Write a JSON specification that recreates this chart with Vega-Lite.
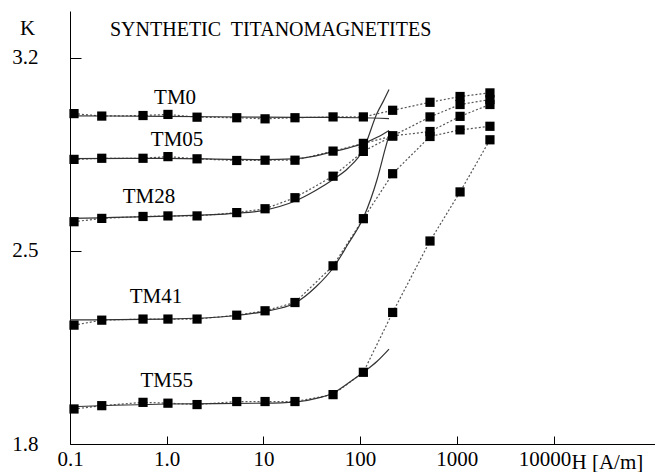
{
  "$schema": "https://vega.github.io/schema/vega-lite/v6.json",
  "width": 585,
  "height": 433,
  "autosize": {"type": "none"},
  "padding": {"left": 70, "top": 11, "right": 0, "bottom": 28},
  "background": "white",
  "config": {"view": {"stroke": null}, "font": "Liberation Serif"},
  "title": {"text": "SYNTHETIC\u00a0 TITANOMAGNETITES", "anchor": "start", "frame": "group", "orient": "top", "offset": 0, "dx": 40, "dy": 45, "baseline": "alphabetic", "font": "Liberation Serif", "fontSize": 20, "fontWeight": "normal", "color": "black"},
  "datasets": {
    "meas": [
      {"s":"TM0","H":0.11,"K":2.998},{"s":"TM0","H":0.213,"K":2.989},{"s":"TM0","H":0.569,"K":2.991},{"s":"TM0","H":1.03,"K":2.995},{"s":"TM0","H":2.06,"K":2.985},{"s":"TM0","H":5.3,"K":2.983},{"s":"TM0","H":10.4,"K":2.979},{"s":"TM0","H":21.2,"K":2.983},{"s":"TM0","H":52.5,"K":2.986},{"s":"TM0","H":108,"K":2.986},{"s":"TM0","H":217,"K":3.010},{"s":"TM0","H":528,"K":3.039},{"s":"TM0","H":1080,"K":3.060},{"s":"TM0","H":2200,"K":3.073},
      {"s":"TM05","H":0.11,"K":2.832},{"s":"TM05","H":0.213,"K":2.836},{"s":"TM05","H":0.569,"K":2.836},{"s":"TM05","H":1.03,"K":2.842},{"s":"TM05","H":2.06,"K":2.834},{"s":"TM05","H":5.3,"K":2.828},{"s":"TM05","H":10.4,"K":2.829},{"s":"TM05","H":21.2,"K":2.829},{"s":"TM05","H":52.5,"K":2.862},{"s":"TM05","H":108,"K":2.890},{"s":"TM05","H":217,"K":2.917},{"s":"TM05","H":528,"K":2.986},{"s":"TM05","H":1080,"K":3.031},{"s":"TM05","H":2200,"K":3.049},
      {"s":"TM28","H":0.11,"K":2.606},{"s":"TM28","H":0.213,"K":2.618},{"s":"TM28","H":0.569,"K":2.625},{"s":"TM28","H":1.03,"K":2.627},{"s":"TM28","H":2.06,"K":2.627},{"s":"TM28","H":5.3,"K":2.639},{"s":"TM28","H":10.4,"K":2.653},{"s":"TM28","H":21.2,"K":2.693},{"s":"TM28","H":52.5,"K":2.771},{"s":"TM28","H":108,"K":2.861},{"s":"TM28","H":217,"K":2.917},{"s":"TM28","H":528,"K":2.933},{"s":"TM28","H":1080,"K":2.988},{"s":"TM28","H":2200,"K":3.031},
      {"s":"TM41","H":0.11,"K":2.231},{"s":"TM41","H":0.213,"K":2.249},{"s":"TM41","H":0.569,"K":2.253},{"s":"TM41","H":1.03,"K":2.253},{"s":"TM41","H":2.06,"K":2.253},{"s":"TM41","H":5.3,"K":2.267},{"s":"TM41","H":10.4,"K":2.283},{"s":"TM41","H":21.2,"K":2.313},{"s":"TM41","H":52.5,"K":2.446},{"s":"TM41","H":108,"K":2.617},{"s":"TM41","H":217,"K":2.780},{"s":"TM41","H":528,"K":2.915},{"s":"TM41","H":1080,"K":2.939},{"s":"TM41","H":2200,"K":2.952},
      {"s":"TM55","H":0.11,"K":1.927},{"s":"TM55","H":0.213,"K":1.939},{"s":"TM55","H":0.569,"K":1.951},{"s":"TM55","H":1.03,"K":1.948},{"s":"TM55","H":2.06,"K":1.943},{"s":"TM55","H":5.3,"K":1.954},{"s":"TM55","H":10.4,"K":1.954},{"s":"TM55","H":21.2,"K":1.954},{"s":"TM55","H":52.5,"K":1.979},{"s":"TM55","H":108,"K":2.060},{"s":"TM55","H":217,"K":2.277},{"s":"TM55","H":528,"K":2.536},{"s":"TM55","H":1080,"K":2.714},{"s":"TM55","H":2200,"K":2.903}
    ],
    "fit": [
      {"s":"TM0","H":0.1,"K":2.990},{"s":"TM0","H":1,"K":2.988},{"s":"TM0","H":10,"K":2.985},{"s":"TM0","H":50,"K":2.984},{"s":"TM0","H":100,"K":2.983},{"s":"TM0","H":199,"K":2.980},
      {"s":"TM05","H":0.1,"K":2.835},{"s":"TM05","H":1,"K":2.836},{"s":"TM05","H":5,"K":2.832},{"s":"TM05","H":10,"K":2.831},{"s":"TM05","H":20,"K":2.834},{"s":"TM05","H":35,"K":2.845},{"s":"TM05","H":50,"K":2.858},{"s":"TM05","H":75,"K":2.873},{"s":"TM05","H":108,"K":2.890},{"s":"TM05","H":150,"K":2.912},{"s":"TM05","H":199,"K":2.937},
      {"s":"TM28","H":0.1,"K":2.618},{"s":"TM28","H":1,"K":2.626},{"s":"TM28","H":5,"K":2.636},{"s":"TM28","H":10,"K":2.647},{"s":"TM28","H":21,"K":2.680},{"s":"TM28","H":35,"K":2.720},{"s":"TM28","H":53,"K":2.760},{"s":"TM28","H":75,"K":2.800},{"s":"TM28","H":108,"K":2.868},{"s":"TM28","H":150,"K":3.000},{"s":"TM28","H":175,"K":3.045},{"s":"TM28","H":199,"K":3.085},
      {"s":"TM41","H":0.1,"K":2.250},{"s":"TM41","H":1,"K":2.253},{"s":"TM41","H":5,"K":2.265},{"s":"TM41","H":10,"K":2.280},{"s":"TM41","H":21,"K":2.310},{"s":"TM41","H":35,"K":2.370},{"s":"TM41","H":53,"K":2.440},{"s":"TM41","H":75,"K":2.525},{"s":"TM41","H":108,"K":2.620},{"s":"TM41","H":150,"K":2.760},{"s":"TM41","H":181,"K":2.868},{"s":"TM41","H":204,"K":2.934},
      {"s":"TM55","H":0.1,"K":1.935},{"s":"TM55","H":1,"K":1.945},{"s":"TM55","H":10,"K":1.948},{"s":"TM55","H":21,"K":1.952},{"s":"TM55","H":38,"K":1.968},{"s":"TM55","H":53,"K":1.985},{"s":"TM55","H":75,"K":2.020},{"s":"TM55","H":108,"K":2.060},{"s":"TM55","H":150,"K":2.100},{"s":"TM55","H":199,"K":2.144}
    ],
    "labels": [
      {"s":"TM0","H":1.22,"K":3.056},
      {"s":"TM05","H":1.28,"K":2.901},
      {"s":"TM28","H":0.656,"K":2.694},
      {"s":"TM41","H":0.774,"K":2.332},
      {"s":"TM55","H":1.0,"K":2.028}
    ]
  },
  "encoding": {
    "x": {"field": "H", "type": "quantitative",
      "scale": {"type": "log", "domain": [0.1, 112000], "nice": false},
      "axis": {"values": [0.1, 1, 10, 100, 1000, 10000], "grid": false,
        "labelExpr": "datum.value < 0.5 ? '0.1' : (datum.value < 5 ? '1.0' : format(datum.value, 'd'))",
        "domainColor": "black", "domainWidth": 1, "tickColor": "black", "tickSize": -8, "tickWidth": 1,
        "labelFont": "Liberation Serif", "labelFontSize": 21, "labelColor": "black", "labelPadding": 12,
        "labelOffset": {"condition": {"test": "datum.value >= 10000", "value": -9}, "value": 0},
        "labelFlush": false, "labelOverlap": false,
        "title": "H [A/m]", "titleFont": "Liberation Serif", "titleFontSize": 21, "titleFontWeight": "normal", "titleColor": "black",
        "titleAlign": "left", "titleAnchor": "start", "titleX": 501, "titleY": 7, "titleBaseline": "top"}},
    "y": {"field": "K", "type": "quantitative",
      "scale": {"domain": [1.8, 3.37], "nice": false, "zero": false},
      "axis": {"values": [1.8, 2.5, 3.2], "format": ".1f", "grid": false,
        "domainColor": "black", "domainWidth": 1, "tickColor": "black", "tickSize": -11, "tickWidth": 1,
        "labelFont": "Liberation Serif", "labelFontSize": 21, "labelColor": "black", "labelPadding": 43,
        "labelFlush": false, "labelOverlap": false,
        "title": "K", "titleFont": "Liberation Serif", "titleFontSize": 21, "titleFontWeight": "normal", "titleColor": "black",
        "titleAngle": 0, "titleAlign": "center", "titleBaseline": "middle", "titleX": -43, "titleY": 17}}
  },
  "layer": [
    {"data": {"name": "meas"}, "mark": {"type": "line", "color": "#555555", "strokeWidth": 1.2, "strokeDash": [2, 2]},
     "encoding": {"detail": {"field": "s"}}},
    {"data": {"name": "fit"}, "mark": {"type": "line", "color": "#333333", "strokeWidth": 1.2, "interpolate": "monotone"},
     "encoding": {"detail": {"field": "s"}}},
    {"data": {"name": "meas"}, "mark": {"type": "point", "shape": "square", "filled": true, "color": "black", "size": 85, "opacity": 1}},
    {"data": {"name": "labels"}, "mark": {"type": "text", "font": "Liberation Serif", "fontSize": 21, "color": "black", "align": "center", "baseline": "middle"},
     "encoding": {"text": {"field": "s"}}}
  ]
}
